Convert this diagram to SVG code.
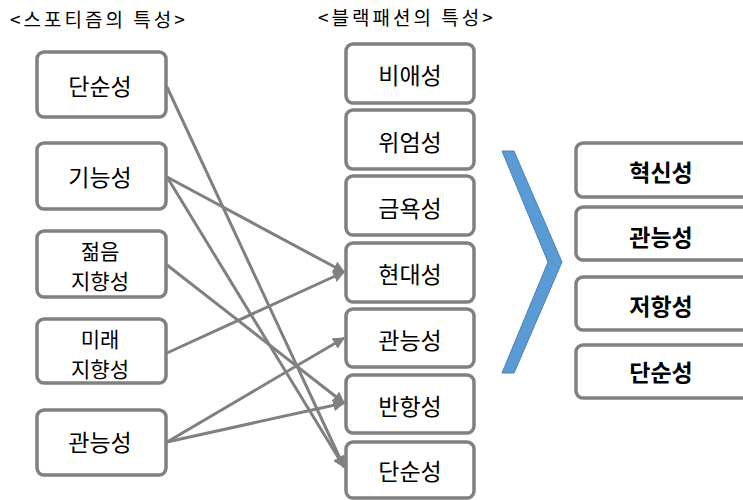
<svg xmlns="http://www.w3.org/2000/svg" width="743" height="500" viewBox="0 0 743 500">
<defs>
<style>
.box{fill:#fff;stroke:#808080;stroke-width:3.5}
.t{font-family:"Noto Sans CJK KR","Noto Sans",sans-serif;font-size:23px;fill:#000;text-anchor:middle}
.t2{font-size:21px}
.b{font-weight:bold}
.title{font-family:"Noto Sans CJK KR","Noto Sans",sans-serif;font-size:19px;fill:#000;letter-spacing:3px}
.c{stroke:#808080;stroke-width:3;fill:none;marker-end:url(#ah)}
</style>
<marker id="ah" viewBox="0 0 10 10" refX="9" refY="5" markerWidth="4" markerHeight="4" orient="auto" markerUnits="strokeWidth">
<path d="M0,0 L10,5 L0,10 z" fill="#808080"/>
</marker>
</defs>
<rect width="743" height="500" fill="#fff"/>
<text class="title" x="10" y="27">&lt;스포티즘의 특성&gt;</text>
<text class="title" x="318" y="25">&lt;블랙패션의 특성&gt;</text>

<g id="connectors">
<line class="c" x1="167" y1="87" x2="344" y2="467"/>
<line class="c" x1="167" y1="177" x2="344" y2="272"/>
<line class="c" x1="167" y1="177" x2="344" y2="467"/>
<line class="c" x1="167" y1="265" x2="344" y2="403"/>
<line class="c" x1="167" y1="353" x2="344" y2="272"/>
<line class="c" x1="167" y1="442" x2="344" y2="338"/>
<line class="c" x1="167" y1="442" x2="344" y2="403"/>
</g>

<g id="l1"><rect class="box" x="37" y="52" width="129" height="65" rx="7"/><text class="t" x="100" y="95">단순성</text></g>
<g id="l2"><rect class="box" x="37" y="143" width="129" height="66" rx="7"/><text class="t" x="100" y="186">기능성</text></g>
<g id="l3"><rect class="box" x="37" y="231" width="129" height="66" rx="7"/><text class="t t2" x="100" y="259"><tspan x="100">젊음</tspan><tspan x="100" dy="30">지향성</tspan></text></g>
<g id="l4"><rect class="box" x="37" y="319" width="129" height="64" rx="7"/><text class="t t2" x="100" y="347"><tspan x="100">미래</tspan><tspan x="100" dy="30">지향성</tspan></text></g>
<g id="l5"><rect class="box" x="37" y="410" width="129" height="65" rx="7"/><text class="t" x="100" y="451">관능성</text></g>

<g id="m1"><rect class="box" x="346" y="44" width="128" height="59" rx="7"/><text class="t" x="410" y="84">비애성</text></g>
<g id="m2"><rect class="box" x="346" y="110" width="128" height="59" rx="7"/><text class="t" x="410" y="151">위엄성</text></g>
<g id="m3"><rect class="box" x="346" y="176" width="128" height="59" rx="7"/><text class="t" x="410" y="217">금욕성</text></g>
<g id="m4"><rect class="box" x="346" y="243" width="128" height="59" rx="7"/><text class="t" x="410" y="283">현대성</text></g>
<g id="m5"><rect class="box" x="346" y="309" width="128" height="58" rx="7"/><text class="t" x="410" y="349">관능성</text></g>
<g id="m6"><rect class="box" x="346" y="375" width="128" height="58" rx="7"/><text class="t" x="410" y="415">반항성</text></g>
<g id="m7"><rect class="box" x="346" y="442" width="128" height="56" rx="7"/><text class="t" x="410" y="480">단순성</text></g>

<g id="chevron"><polygon points="502,151 514,151 562,262 514,373 502,373 548,262" fill="#5b9bd5" stroke="#4a80b8" stroke-width="1"/></g>

<g id="r1"><rect class="box" x="576" y="143" width="180" height="54" rx="7"/><text class="t b" x="661" y="181">혁신성</text></g>
<g id="r2"><rect class="box" x="576" y="207" width="180" height="53" rx="7"/><text class="t b" x="661" y="246">관능성</text></g>
<g id="r3"><rect class="box" x="576" y="277" width="180" height="53" rx="7"/><text class="t b" x="661" y="315">저항성</text></g>
<g id="r4"><rect class="box" x="576" y="345" width="180" height="53" rx="7"/><text class="t b" x="661" y="381">단순성</text></g>
</svg>
